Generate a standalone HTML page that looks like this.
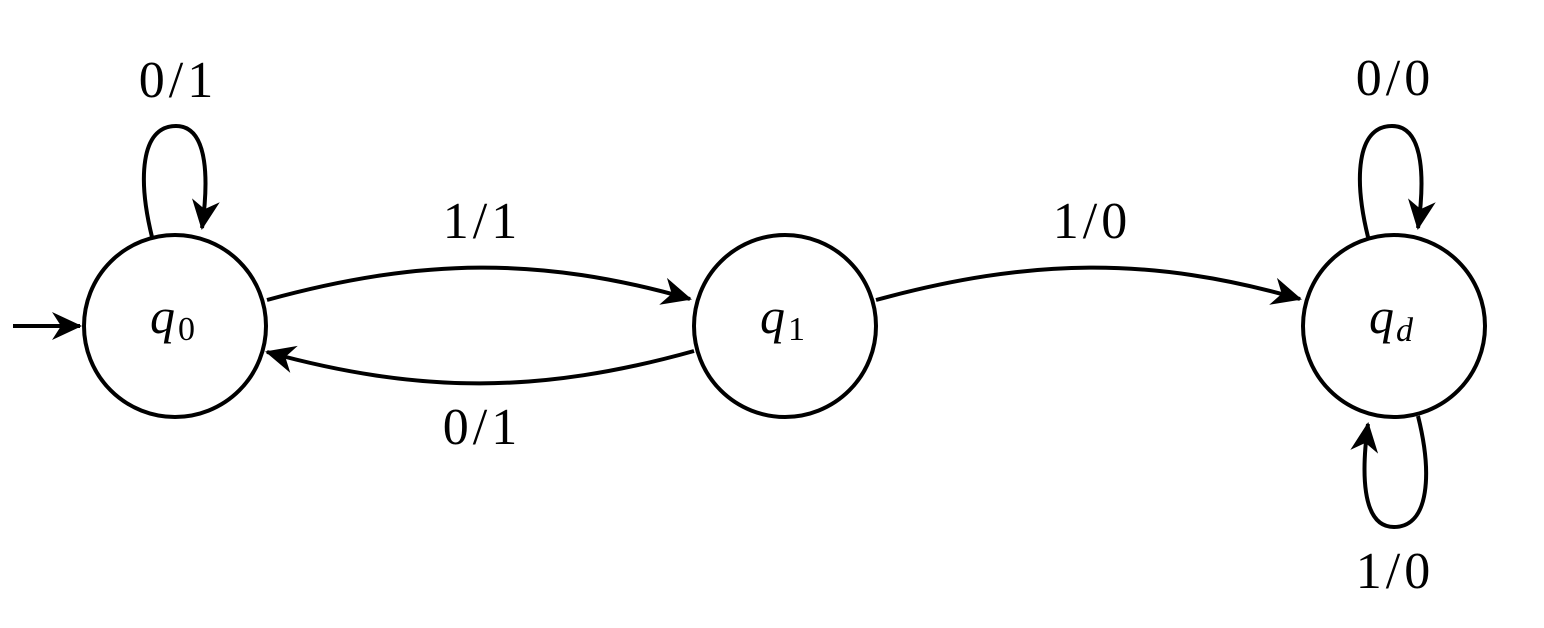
<!DOCTYPE html>
<html><head><meta charset="utf-8"><style>
html,body{margin:0;padding:0;background:#fff;}
svg{display:block;}
text{font-family:"Liberation Serif",serif;fill:#000;}
</style></head><body>
<svg width="1544" height="628" viewBox="0 0 1544 628" xmlns="http://www.w3.org/2000/svg">
<defs>
<marker id="a" markerUnits="userSpaceOnUse" markerWidth="50" markerHeight="50" refX="0" refY="0" viewBox="-35 -25 50 50" orient="auto" overflow="visible">
<path d="M2,0 L-28,-14 L-19,0 L-28,14 Z" fill="#000"/>
</marker>
</defs>
<g fill="none" stroke="#000" stroke-width="4">
<circle cx="175" cy="326" r="91"/>
<circle cx="785" cy="326" r="91"/>
<circle cx="1394" cy="326" r="91"/>
<path d="M13,326 L80,326" marker-end="url(#a)"/>
<path d="M152,237 C138,180 140,126 176,126 C210,126 208,185 202,228" marker-end="url(#a)"/>
<path d="M1368,237 C1354,180 1356,126 1392,126 C1426,126 1424,185 1418,228" marker-end="url(#a)"/>
<path d="M1418,416 C1432,472 1430,527 1394,527 C1360,527 1362,468 1368,424" marker-end="url(#a)"/>
<path d="M267,300 C420,258 540,256 690,299" marker-end="url(#a)"/>
<path d="M694,351 C540,394 420,394 267,352" marker-end="url(#a)"/>
<path d="M876,300 C1030,258 1150,256 1300,299" marker-end="url(#a)"/>
</g>
<g font-size="52" text-anchor="middle" letter-spacing="4">
<text x="178" y="97">0/1</text>
<text x="482" y="238">1/1</text>
<text x="482" y="444">0/1</text>
<text x="1092" y="238">1/0</text>
<text x="1395" y="95">0/0</text>
<text x="1395" y="588">1/0</text>
</g>
<text x="150" y="333" font-size="50" font-style="italic">q</text><text x="178" y="340" font-size="34">0</text>
<text x="760" y="333" font-size="50" font-style="italic">q</text><text x="788" y="340" font-size="34">1</text>
<text x="1369" y="333" font-size="50" font-style="italic">q</text><text x="1396" y="341" font-size="34" font-style="italic">d</text>
</svg>
</body></html>
